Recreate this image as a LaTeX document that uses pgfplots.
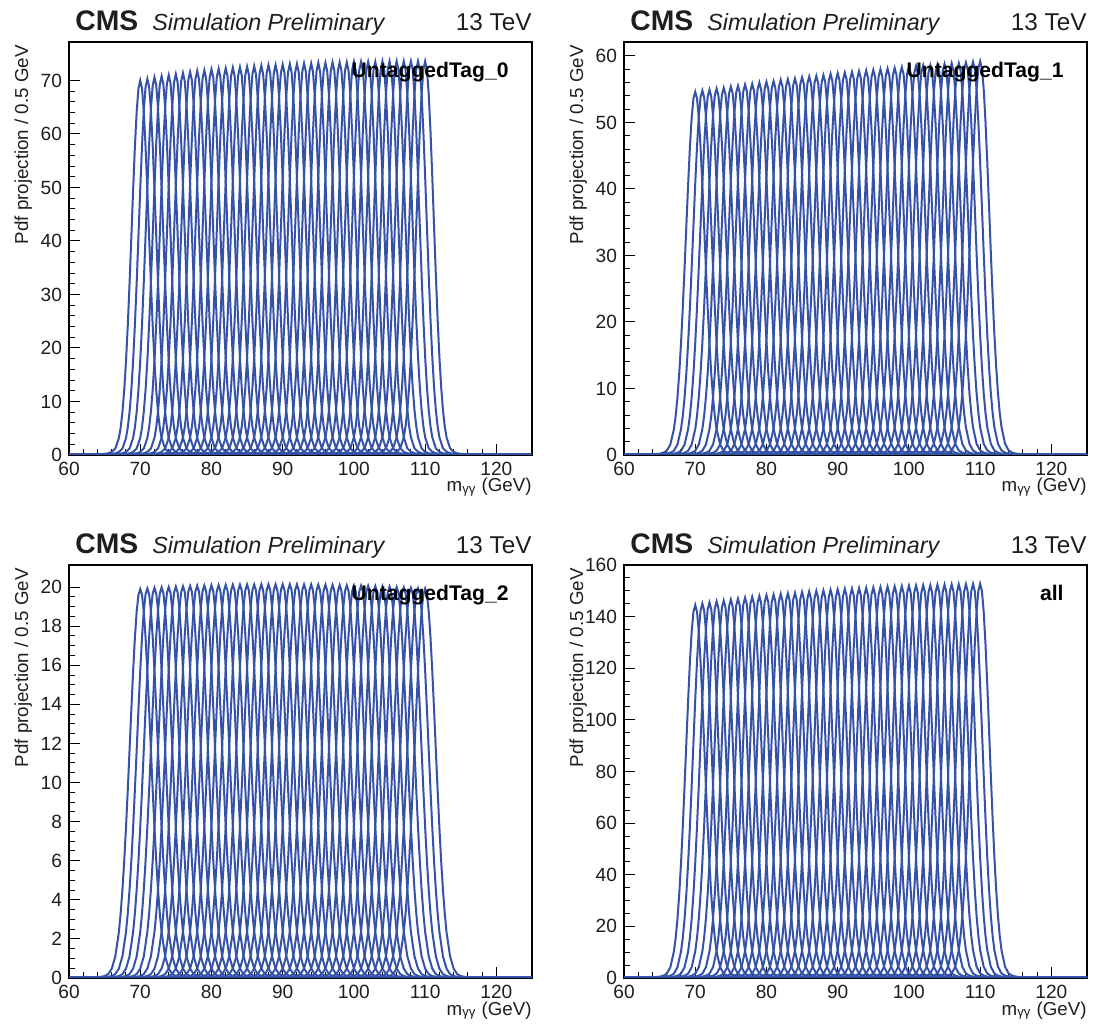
\documentclass[border=0pt]{standalone}
\usepackage{fontspec}
\setmainfont{Liberation Sans}
\usepackage{pgfplots}
\usepackage{pgfplotstable}
\pgfplotsset{compat=1.18}
\definecolor{cmsblue}{RGB}{52,82,168}
\definecolor{txt}{RGB}{30,30,30}

% signal shape: offset from the mass point (GeV) and relative height, for three widths
\pgfplotstableread{
dx a b c
-50 0 0 0
-20 0.00005 0.00005 0.00005
-12 0.0003 0.0003 0.0003
-8 0.0008 0.0008 0.0010
-6 0.0016 0.0018 0.0022
-5.5 0.0022 0.0026 0.0032
-5 0.0030 0.0036 0.0050
-4.5 0.0045 0.0060 0.0100
-4 0.0080 0.0115 0.0240
-3.5 0.0170 0.0285 0.0555
-3 0.0450 0.0705 0.1180
-2.75 0.0728 0.1070 0.1658
-2.5 0.1142 0.1574 0.2262
-2.25 0.1724 0.2236 0.3000
-2 0.2494 0.3062 0.3863
-1.75 0.3453 0.4041 0.4827
-1.5 0.4578 0.5139 0.5856
-1.25 0.5813 0.6298 0.6896
-1 0.7066 0.7438 0.7883
-0.75 0.8226 0.8467 0.8748
-0.5 0.9169 0.9287 0.9423
-0.25 0.9785 0.9817 0.9852
0 1 1 1
0.25 0.9785 0.9817 0.9852
0.5 0.9169 0.9287 0.9423
0.75 0.8226 0.8467 0.8748
1 0.7066 0.7438 0.7883
1.25 0.5813 0.6298 0.6896
1.5 0.4578 0.5139 0.5856
1.75 0.3453 0.4041 0.4827
2 0.2494 0.3062 0.3863
2.25 0.1724 0.2236 0.3000
2.5 0.1142 0.1574 0.2262
2.75 0.0728 0.1070 0.1658
3 0.0450 0.0705 0.1180
3.5 0.0170 0.0285 0.0555
4 0.0080 0.0115 0.0240
4.5 0.0045 0.0060 0.0100
5 0.0030 0.0036 0.0050
5.5 0.0022 0.0026 0.0032
6 0.0016 0.0018 0.0022
8 0.0008 0.0008 0.0010
12 0.0003 0.0003 0.0003
20 0.00005 0.00005 0.00005
55 0 0 0
}\sigshape

\pgfplotsset{cmspanel/.style={
  scale only axis, width=231.5bp, height=206.5bp,
  xmin=60, xmax=125, ymin=0,
  xtick={60,70,...,120}, minor x tick num=4,
  tick pos=left, tick align=inside,
  major tick length=5.5bp, minor tick length=3bp,
  every tick/.style={black, line width=0.5bp},
  axis line style={black, line width=0.8bp},
  ticklabel style={font=\fontsize{9.6}{10}\selectfont, text=txt},
  /pgf/number format/assume math mode=true,
  clip=true,
}}

\newcommand{\drawcurves}[2]{%
  \foreach \m/\h in {#2} {%
    \edef\tmp{\noexpand\addplot[cmsblue, line width=1.0bp] table[x expr=\noexpand\thisrow{dx}+\m, y expr=\noexpand\thisrow{#1}*\h] {\noexpand\sigshape};}%
    \tmp
  }}

\newcommand{\decor}[2]{%
  \node[anchor=base west, inner sep=0, text=txt] at ([xshift=3bp,yshift=5.5bp]#1.north west) {\fontsize{14.2}{15}\selectfont\bfseries CMS};
  \node[anchor=base west, inner sep=0, text=txt] at ([xshift=41.5bp,yshift=5.5bp]#1.north west) {\fontsize{11.7}{13}\selectfont\itshape Simulation Preliminary};
  \node[anchor=base east, inner sep=0, text=txt] at ([yshift=5.5bp]#1.north east) {\fontsize{12.2}{13}\selectfont 13 TeV};
  \node[anchor=base east, inner sep=0, text=txt, rotate=90] at ([xshift=-20.5bp,yshift=-1.5bp]#1.north west) {\fontsize{9.4}{10}\selectfont Pdf projection / 0.5 GeV};
  \node[anchor=base east, inner sep=0, text=txt] at ([yshift=-18.5bp]#1.south east) {\fontsize{9.4}{10}\selectfont m\textsubscript{γγ} (GeV)};
  \node[anchor=base east, inner sep=0, text=black] at ([xshift=-11.5bp,yshift=-18bp]#1.north east) {\fontsize{10.6}{12}\selectfont\bfseries #2};
}

\begin{document}
\begin{tikzpicture}
\path (0,0) rectangle (548.5bp,514bp);

\begin{axis}[cmspanel, name=p1, at={(34.5bp,286.5bp)}, anchor=south west,
  ymax=77.2, ytick={0,10,...,70}, minor y tick num=4]
\drawcurves{a}{70/70.0,71/70.3,72/70.6,73/70.8,74/71.0,75/71.2,76/71.4,77/71.6,78/71.8,79/71.9,80/72.1,81/72.2,82/72.3,83/72.4,84/72.5,85/72.6,86/72.7,87/72.8,88/72.9,89/72.9,90/73.0,91/73.1,92/73.1,93/73.2,94/73.2,95/73.3,96/73.3,97/73.4,98/73.4,99/73.4,100/73.5,101/73.5,102/73.5,103/73.5,104/73.6,105/73.6,106/73.6,107/73.6,108/73.6,109/73.6,110/73.6}
\end{axis}
\decor{p1}{UntaggedTag\_0}

\begin{axis}[cmspanel, name=p2, at={(312bp,286.5bp)}, anchor=south west,
  ymax=62.1, ytick={0,10,...,60}, minor y tick num=4]
\drawcurves{b}{70/54.6,71/54.8,72/54.9,73/55.1,74/55.2,75/55.4,76/55.5,77/55.7,78/55.8,79/56.0,80/56.1,81/56.2,82/56.4,83/56.5,84/56.6,85/56.8,86/56.9,87/57.0,88/57.1,89/57.3,90/57.4,91/57.5,92/57.6,93/57.7,94/57.8,95/57.9,96/58.0,97/58.1,98/58.2,99/58.3,100/58.4,101/58.5,102/58.6,103/58.6,104/58.7,105/58.8,106/58.9,107/58.9,108/59.0,109/59.1,110/59.2}
\end{axis}
\decor{p2}{UntaggedTag\_1}

\begin{axis}[cmspanel, name=p3, at={(34.5bp,25bp)}, anchor=south west,
  ymax=21.13, ytick={0,2,...,20}, minor y tick num=3]
\drawcurves{c}{70/19.90,71/19.93,72/19.96,73/19.98,74/20.00,75/20.02,76/20.04,77/20.06,78/20.07,79/20.08,80/20.09,81/20.10,82/20.11,83/20.12,84/20.12,85/20.13,86/20.13,87/20.14,88/20.14,89/20.14,90/20.14,91/20.14,92/20.14,93/20.13,94/20.13,95/20.12,96/20.12,97/20.11,98/20.10,99/20.09,100/20.08,101/20.07,102/20.06,103/20.05,104/20.04,105/20.02,106/20.00,107/19.98,108/19.96,109/19.94,110/19.92}
\end{axis}
\decor{p3}{UntaggedTag\_2}

\begin{axis}[cmspanel, name=p4, at={(312bp,25bp)}, anchor=south west,
  ymax=160, ytick={0,20,...,160}, minor y tick num=3]
\drawcurves{b}{70/144.50,71/145.03,72/145.46,73/145.88,74/146.20,75/146.62,76/146.94,77/147.36,78/147.67,79/147.98,80/148.29,81/148.50,82/148.81,83/149.02,84/149.22,85/149.53,86/149.73,87/149.94,88/150.14,89/150.34,90/150.54,91/150.74,92/150.84,93/151.03,94/151.13,95/151.32,96/151.42,97/151.61,98/151.70,99/151.79,100/151.98,101/152.07,102/152.16,103/152.15,104/152.34,105/152.42,106/152.50,107/152.48,108/152.56,109/152.64,110/152.72}
\end{axis}
\decor{p4}{all}
\end{tikzpicture}
\end{document}
